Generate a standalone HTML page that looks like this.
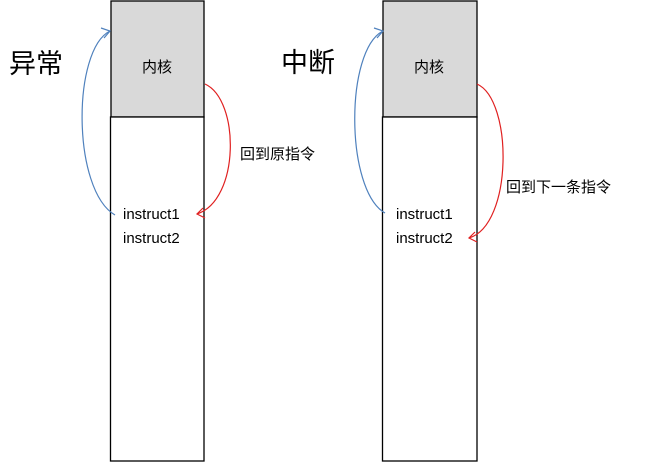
<!DOCTYPE html>
<html><head><meta charset="utf-8"><style>
html,body{margin:0;padding:0;background:#fff;width:646px;height:463px;overflow:hidden}
text{font-family:"Liberation Sans","Noto Sans CJK SC",sans-serif;fill:#000}
</style></head><body>
<svg width="646" height="463" viewBox="0 0 646 463" xmlns="http://www.w3.org/2000/svg">
<rect x="111" y="1" width="93" height="116" fill="#d9d9d9" stroke="#000" stroke-width="1.3"/>
<rect x="110.5" y="117" width="93.5" height="344" fill="#fff" stroke="#000" stroke-width="1.3"/>
<rect x="383" y="1" width="94" height="116" fill="#d9d9d9" stroke="#000" stroke-width="1.3"/>
<rect x="382.5" y="117" width="94.5" height="344" fill="#fff" stroke="#000" stroke-width="1.3"/>
<g fill="none" stroke-width="1.2">
<path d="M115,215 C72,190 72,50 110,31" stroke="#4f81bd"/>
<path d="M101,28 L110,31 L104,38" stroke="#4f81bd"/>
<path d="M205,84 C240,100 240,200 197,214" stroke="#e02020"/>
<path d="M203,208 L197,214 L205,218" stroke="#e02020"/>
<path d="M385,213 C345,190 345,50 383,31" stroke="#4f81bd"/>
<path d="M374,28 L383,31 L377,38" stroke="#4f81bd"/>
<path d="M477,84 C513,100 513,225 469,238" stroke="#e02020"/>
<path d="M475,232 L469,238 L477,242" stroke="#e02020"/>
</g>
<text x="9" y="73" font-size="27">异常</text>
<text x="281" y="72" font-size="27">中断</text>
<text x="142" y="72" font-size="15">内核</text>
<text x="414" y="72" font-size="15">内核</text>
<text x="240" y="159" font-size="15">回到原指令</text>
<text x="506" y="192" font-size="15">回到下一条指令</text>
<text x="123" y="219" font-size="15">instruct1</text>
<text x="123" y="243" font-size="15">instruct2</text>
<text x="396" y="219" font-size="15">instruct1</text>
<text x="396" y="243" font-size="15">instruct2</text>
</svg>
</body></html>
